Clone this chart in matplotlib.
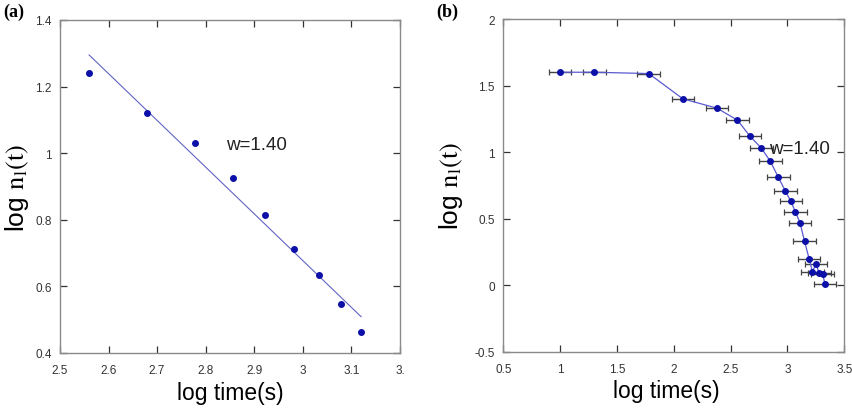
import numpy as np
import matplotlib
matplotlib.use('Agg')
import matplotlib.pyplot as plt

# ===================== DATA =====================
# panel (a): power-law fit region
xa = [2.559, 2.680, 2.778, 2.857, 2.923, 2.981, 3.033, 3.078, 3.120]
ya = [1.241, 1.122, 1.031, 0.925, 0.813, 0.711, 0.633, 0.546, 0.463]
fit_x = [2.560, 3.120]
fit_y = [1.295, 0.509]

# panel (b): full curve with horizontal error bars
xb = [1.00, 1.30, 1.78, 2.08, 2.38, 2.56, 2.67, 2.77, 2.85, 2.92, 2.98,
      3.03, 3.07, 3.11, 3.15, 3.19, 3.22, 3.25, 3.28, 3.31, 3.33]
yb = [1.60, 1.60, 1.59, 1.40, 1.33, 1.24, 1.12, 1.03, 0.93, 0.81, 0.71,
      0.63, 0.55, 0.47, 0.33, 0.20, 0.10, 0.16, 0.09, 0.085, 0.005]
xerr_b = [0.10] * len(xb)

xticks_a = [2.5, 2.6, 2.7, 2.8, 2.9, 3.0, 3.1, 3.2]
xticklabels_a = ['2.5', '2.6', '2.7', '2.8', '2.9', '3', '3.1', '3.']
yticks_a = [0.4, 0.6, 0.8, 1.0, 1.2, 1.4]
yticklabels_a = ['0.4', '0.6', '0.8', '1', '1.2', '1.4']

xticks_b = [0.5, 1.0, 1.5, 2.0, 2.5, 3.0, 3.5]
xticklabels_b = ['0.5', '1', '1.5', '2', '2.5', '3', '3.5']
yticks_b = [-0.5, 0.0, 0.5, 1.0, 1.5, 2.0]
yticklabels_b = ['-0.5', '0', '0.5', '1', '1.5', '2']

# ===================== STYLE =====================
plt.rcParams['font.family'] = ['Liberation Sans', 'DejaVu Sans']
plt.rcParams['mathtext.fontset'] = 'stix'

pt_col = '#0c10a8'
spine_col = '#8a8a8a'
tick_col = '#333333'

fig = plt.figure(figsize=(8.53, 4.10), dpi=100)
ax1 = fig.add_axes([0.0703, 0.1366, 0.3986, 0.8122])
ax2 = fig.add_axes([0.5900, 0.1398, 0.3998, 0.8114])


def style_axis(ax, xt, xtl, yt, ytl):
    ax.set_xticks(xt)
    ax.set_xticklabels(xtl)
    ax.set_yticks(yt)
    ax.set_yticklabels(ytl)
    ax.tick_params(axis='both', direction='in', length=5, width=0.9,
                   colors=tick_col, labelsize=8.5, top=True, right=True)
    ax.tick_params(axis='x', pad=8)
    ax.tick_params(axis='y', pad=6)
    for s in ax.spines.values():
        s.set_color(spine_col)
        s.set_linewidth(1.0)


# ===================== PANEL (a) =====================
ax1.plot(fit_x, fit_y, color='#6262c4', linewidth=0.8)
ax1.plot(xa, ya, 'o', color=pt_col, markersize=4)
ax1.set_xlim(2.5, 3.2)
ax1.set_ylim(0.4, 1.4)
style_axis(ax1, xticks_a, xticklabels_a, yticks_a, yticklabels_a)
ax1.text(2.842, 1.026, 'w=1.40', fontsize=13.5, color='#222222',
         ha='left', va='center')
ax1.set_xlabel('log time(s)', fontsize=16.5)
ax1.set_ylabel('log $\\mathrm{n_l(t)}$', fontsize=19)
ax1.xaxis.set_label_coords(0.5, -0.085)
ax1.yaxis.set_label_coords(-0.084, 0.5)

# ===================== PANEL (b) =====================
ax2.errorbar(xb, yb, xerr=xerr_b, fmt='none', ecolor='#444444',
             elinewidth=1.0, capsize=2, capthick=0.9, zorder=2)
ax2.plot(xb, yb, '-', color='#5a5ad0', linewidth=0.9, zorder=3)
ax2.plot(xb, yb, 'o', color=pt_col, markersize=4, zorder=4)
ax2.set_xlim(0.5, 3.5)
ax2.set_ylim(-0.5, 2.0)
style_axis(ax2, xticks_b, xticklabels_b, yticks_b, yticklabels_b)
ax2.text(2.837, 1.028, 'w=1.40', fontsize=13.5, color='#222222',
         ha='left', va='center')
ax2.set_xlabel('log time(s)', fontsize=16.5)
ax2.set_ylabel('log $\\mathrm{n_l(t)}$', fontsize=19)
ax2.xaxis.set_label_coords(0.479, -0.082)
ax2.yaxis.set_label_coords(-0.112, 0.5)

# ===================== PANEL LETTERS =====================
fig.text(0.004, 0.99, '(a)', fontsize=13, fontweight='bold',
         family='Liberation Serif', va='top', ha='left')
fig.text(0.512, 0.99, '(b)', fontsize=13, fontweight='bold',
         family='Liberation Serif', va='top', ha='left')

fig.savefig('out.png', dpi=100)
